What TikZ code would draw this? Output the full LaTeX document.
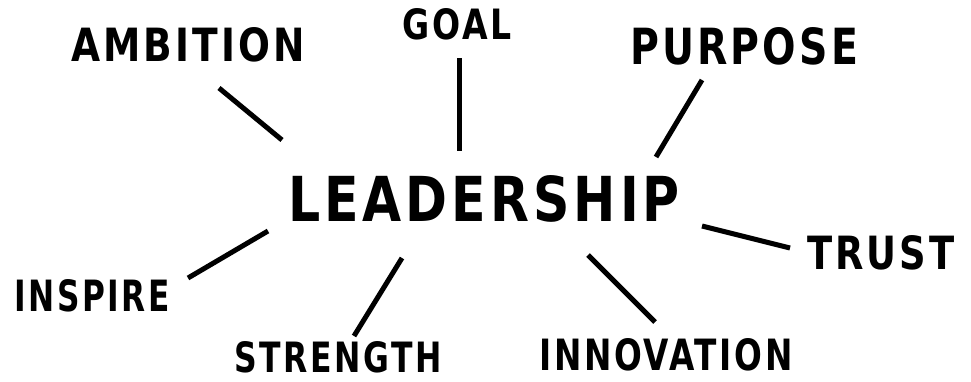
\documentclass[tikz,border=0pt]{standalone}
\usepackage{fontspec}
\usepackage{graphicx}
\newfontfamily\grunge[LetterSpace=8]{DejaVu Sans Bold}
\newcommand{\wordbox}[3]{\resizebox{#1pt}{#2pt}{\grunge #3}}
\begin{document}
\begin{tikzpicture}[x=1pt,y=-1pt,
  word/.style={inner sep=0pt,outer sep=0pt,text=black},
  link/.style={line width=5pt,black}]
\useasboundingbox[fill=white] (0,0) rectangle (971,381);
\node[word] (leadership) at (484,199) {\wordbox{392}{46}{LEADERSHIP}};
\node[word] (ambition) at (188,45) {\wordbox{233}{34}{AMBITION}};
\node[word] (goal) at (457,24) {\wordbox{109}{31}{GOAL}};
\node[word] (purpose) at (744,46) {\wordbox{228}{37}{PURPOSE}};
\node[word] (trust) at (881,253) {\wordbox{147}{34}{TRUST}};
\node[word] (inspire) at (92,296) {\wordbox{155}{32}{INSPIRE}};
\node[word] (strength) at (338,357) {\wordbox{207}{31}{STRENGTH}};
\node[word] (innovation) at (666,355) {\wordbox{253}{32}{INNOVATION}};
\coordinate (amb1) at (219,88);   \coordinate (amb2) at (282,140);
\coordinate (goal1) at (459,58);  \coordinate (goal2) at (459,151);
\coordinate (pur1) at (702,80);   \coordinate (pur2) at (656,157);
\coordinate (tru1) at (702,226);  \coordinate (tru2) at (790,248);
\coordinate (ins1) at (268,231);  \coordinate (ins2) at (188,278);
\coordinate (str1) at (402,258);  \coordinate (str2) at (354,336);
\coordinate (inn1) at (588,255);  \coordinate (inn2) at (655,322);
\draw[link] (amb1) -- (amb2);
\draw[link] (goal1) -- (goal2);
\draw[link] (pur1) -- (pur2);
\draw[link] (tru1) -- (tru2);
\draw[link] (ins1) -- (ins2);
\draw[link] (str1) -- (str2);
\draw[link] (inn1) -- (inn2);
\end{tikzpicture}
\end{document}
